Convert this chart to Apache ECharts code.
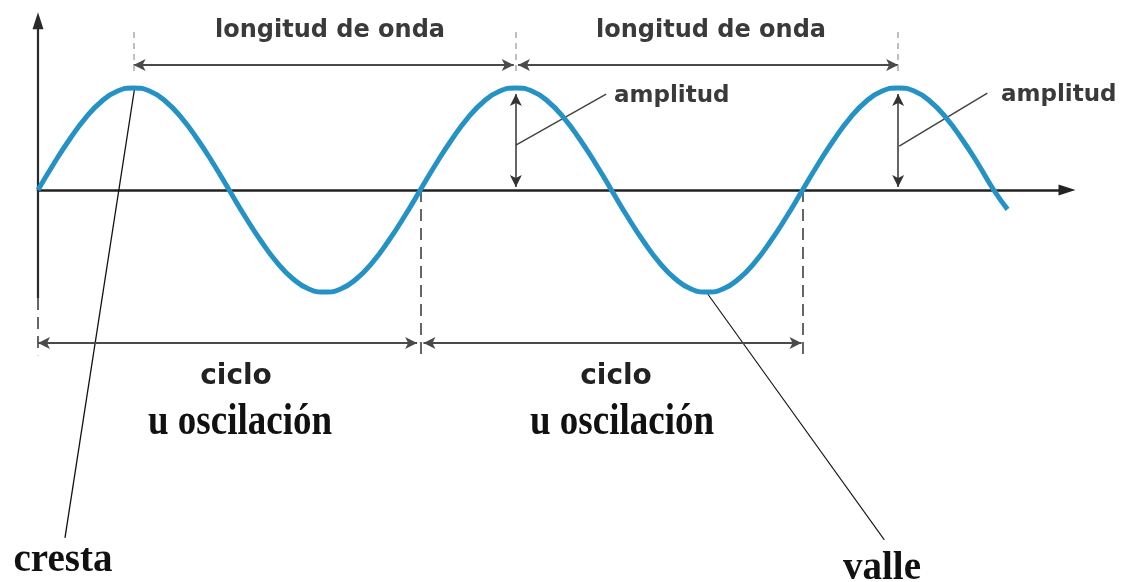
<!DOCTYPE html>
<html>
<head>
<meta charset="utf-8">
<title>Onda</title>
<script src="https://cdn.jsdelivr.net/npm/echarts@6/dist/echarts.min.js"></script>
<style>
  html, body { margin: 0; padding: 0; background: #fff; }
  #chart { width: 1131px; height: 582px; }
</style>
</head>
<body>
<div id="chart"></div>
<script>
// fase en grados (una longitud de onda = 360) y elongación en amplitudes
const waveX = [0, 15, 30, 45, 60, 75, 90, 105, 120, 135, 150, 165,
  180, 195, 210, 225, 240, 255, 270, 285, 300, 315, 330, 345,
  360, 375, 390, 405, 420, 435, 450, 465, 480, 495, 510, 525,
  540, 555, 570, 585, 600, 615, 630, 645, 660, 675, 690, 705,
  720, 735, 750, 765, 780, 795, 810, 825, 840, 855, 870, 885,
  900, 913];
const waveY = [0, 0.26, 0.5, 0.71, 0.87, 0.97, 1, 0.97, 0.87, 0.71, 0.5, 0.26,
  0, -0.26, -0.5, -0.71, -0.87, -0.97, -1, -0.97, -0.87, -0.71, -0.5, -0.26,
  0, 0.26, 0.5, 0.71, 0.87, 0.97, 1, 0.97, 0.87, 0.71, 0.5, 0.26,
  0, -0.26, -0.5, -0.71, -0.87, -0.97, -1, -0.97, -0.87, -0.71, -0.5, -0.26,
  0, 0.26, 0.5, 0.71, 0.87, 0.97, 1, 0.97, 0.87, 0.71, 0.5, 0.26,
  0, -0.19];
const crestX = [90, 450, 810];
const troughX = [270, 630];
const cycleX = [0, 360, 720];

const chart = echarts.init(document.getElementById("chart"));

const ink = "#3a3a3a";
const sans = "DejaVu Sans";
const serif = "Liberation Serif";

// segmento de anotación en coordenadas de datos
function seg(a, b, style, startSym, endSym, endSize) {
  const end = { coord: b, symbol: endSym || "none" };
  if (endSize) end.symbolSize = endSize;
  return [
    { coord: a, symbol: startSym || "none", lineStyle: Object.assign({ type: "solid" }, style) },
    end,
  ];
}

const dimStyle = { color: "#4a4a4a", width: 2 };
const dashStyle = { color: "#666", width: 2, type: [12, 7] };
const tickStyle = { color: "#aaa", width: 1.5, type: [6, 5] };

const marks = [
  // eje vertical: continuo arriba, discontinuo bajo la onda
  seg([cycleX[0], -1.06], [cycleX[0], 1.66], { color: "#2a2a2a", width: 2.2 }, "none", "triangle", [11, 17]),
  seg([cycleX[0], -1.06], [cycleX[0], -1.62], dashStyle),
  // longitud de onda
  seg([crestX[0], 1.225], [crestX[1] - 2, 1.225], dimStyle, "arrow", "arrow"),
  seg([crestX[1] + 2, 1.225], [crestX[2], 1.225], dimStyle, "arrow", "arrow"),
  // marcas discontinuas sobre las crestas
  ...crestX.map((x) => seg([x, 1.55], [x, 1.15], tickStyle)),
  // amplitudes
  seg([crestX[1], 0.94], [crestX[1], 0.03], { color: "#333", width: 1.5 }, "arrow", "arrow"),
  seg([crestX[2], 0.94], [crestX[2], 0.03], { color: "#333", width: 1.5 }, "arrow", "arrow"),
  seg([crestX[1], 0.44], [535, 0.94], { color: "#444", width: 1.5 }),
  seg([crestX[2] + 1, 0.43], [894, 0.95], { color: "#444", width: 1.5 }),
  // cresta y valle
  seg([crestX[0] + 1, 1.0], [25.4, -3.41], { color: "#111", width: 1.3 }),
  seg([troughX[1], -1.01], [797, -3.43], { color: "#111", width: 1.1 }),
  // ciclos
  seg([cycleX[0], -1.5], [cycleX[1] - 3, -1.5], dimStyle, "arrow", "arrow"),
  seg([cycleX[1] + 3, -1.5], [cycleX[2] - 1, -1.5], dimStyle, "arrow", "arrow"),
  seg([cycleX[1], 0], [cycleX[1], -1.62], dashStyle),
  seg([cycleX[2], 0], [cycleX[2], -1.62], dashStyle),
];

chart.setOption({
  animation: false,
  backgroundColor: "#fff",
  grid: { left: 38, right: 64, top: 11.5, bottom: 24.8 },
  xAxis: {
    type: "value",
    min: 0,
    max: 969,
    axisLine: {
      onZero: true,
      symbol: ["none", "triangle"],
      symbolSize: [11, 17],
      lineStyle: { color: "#222", width: 2.5 },
    },
    axisTick: { show: false },
    axisLabel: { show: false },
    splitLine: { show: false },
  },
  yAxis: {
    type: "value",
    min: -3.6,
    max: 1.75,
    axisLine: { show: false },
    axisTick: { show: false },
    axisLabel: { show: false },
    splitLine: { show: false },
  },
  series: [
    {
      type: "line",
      smooth: 0.5,
      showSymbol: false,
      silent: true,
      data: waveX.map((x, i) => [x, waveY[i]]),
      lineStyle: { color: "#2592c6", width: 5 },
      z: 3,
      markLine: {
        silent: true,
        symbolSize: [9, 12],
        label: { show: false },
        emphasis: { disabled: true },
        data: marks,
        z: 2,
      },
    },
  ],
  graphic: [
    { type: "text", x: 330, y: 31, style: { text: "longitud de onda", font: "bold 24px '" + sans + "'", fill: ink, align: "center", verticalAlign: "middle" } },
    { type: "text", x: 711, y: 31, style: { text: "longitud de onda", font: "bold 24px '" + sans + "'", fill: ink, align: "center", verticalAlign: "middle" } },
    { type: "text", x: 614, y: 96, style: { text: "amplitud", font: "bold 23px '" + sans + "'", fill: ink, align: "left", verticalAlign: "middle" } },
    { type: "text", x: 1001, y: 95, style: { text: "amplitud", font: "bold 23px '" + sans + "'", fill: ink, align: "left", verticalAlign: "middle" } },
    { type: "text", x: 236, y: 377, style: { text: "ciclo", font: "bold 28px '" + sans + "'", fill: "#222", align: "center", verticalAlign: "middle" } },
    { type: "text", x: 616, y: 377, style: { text: "ciclo", font: "bold 28px '" + sans + "'", fill: "#222", align: "center", verticalAlign: "middle" } },
    { type: "text", x: 240, y: 423, scaleY: 1.2, style: { text: "u oscilación", font: "bold 37px '" + serif + "'", fill: "#111", align: "center", verticalAlign: "middle" } },
    { type: "text", x: 622, y: 423, scaleY: 1.2, style: { text: "u oscilación", font: "bold 37px '" + serif + "'", fill: "#111", align: "center", verticalAlign: "middle" } },
    { type: "text", x: 63, y: 561, style: { text: "cresta", font: "bold 39px '" + serif + "'", fill: "#111", align: "center", verticalAlign: "middle" } },
    { type: "text", x: 882, y: 569, style: { text: "valle", font: "bold 39px '" + serif + "'", fill: "#111", align: "center", verticalAlign: "middle" } },
  ],
});
</script>
</body>
</html>
